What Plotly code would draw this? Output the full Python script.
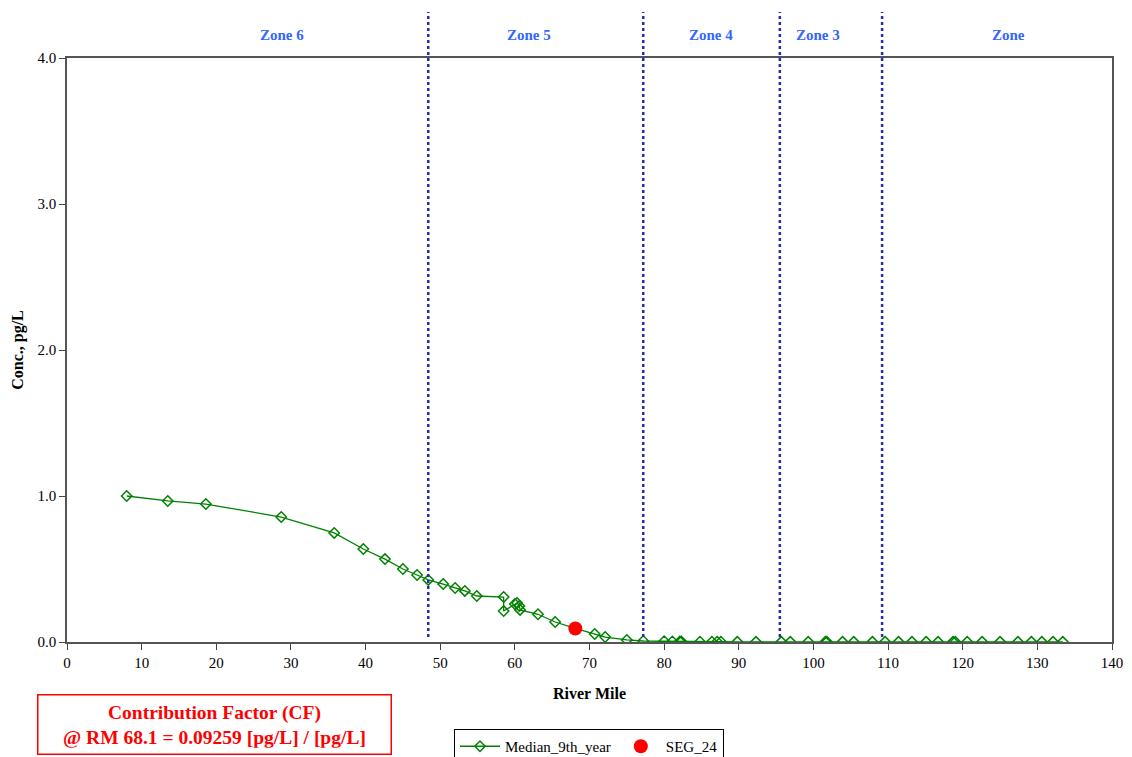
import plotly.graph_objects as go

# River mile and median concentration (pg/L)
river_mile = [8.0, 13.5, 18.6, 28.7, 35.8, 39.7, 42.6, 45.0, 46.9, 48.4,
              50.4, 52.0, 53.3, 54.9, 58.5, 58.5, 60.0, 60.3, 60.6, 60.7,
              63.1, 65.4, 68.1, 70.7, 72.1, 75.0, 77.2, 80.0, 81.1, 82.1,
              82.3, 84.8, 86.4, 87.1, 87.6, 89.8, 92.3, 95.7, 96.9, 99.3,
              101.6, 101.8, 103.9, 105.4, 107.9, 109.6, 111.4, 113.2, 115.1, 116.7,
              118.7, 119.0, 120.6, 122.6, 125.0, 127.4, 129.2, 130.6, 132.1, 133.4]
median_conc = [1.00, 0.966, 0.945, 0.856, 0.747, 0.637, 0.568, 0.500, 0.459, 0.425,
               0.397, 0.370, 0.350, 0.315, 0.308, 0.212, 0.260, 0.267, 0.247, 0.220,
               0.190, 0.137, 0.0926, 0.055, 0.034, 0.014, 0.007, 0.005, 0.004, 0.003,
               0.003, 0.002, 0.002, 0.002, 0.002, 0.001, 0.001, 0.001, 0.001, 0.001,
               0.001, 0.001, 0.001, 0.001, 0.001, 0.001, 0.001, 0.001, 0.001, 0.001,
               0.001, 0.001, 0.001, 0.001, 0.001, 0.001, 0.001, 0.001, 0.001, 0.001]

seg_mile = [68.1]
seg_conc = [0.09259]

zone_bounds = [48.4, 77.2, 95.5, 109.2]
zone_labels = ["Zone 6", "Zone 5", "Zone 4", "Zone 3", "Zone"]
zone_label_x = [28.8, 61.9, 86.3, 100.6, 126.2]

x_ticks = list(range(0, 141, 10))
y_ticks = [0.0, 1.0, 2.0, 3.0, 4.0]

FONT = "Liberation Serif, Times New Roman, serif"

fig = go.Figure()
fig.add_trace(go.Scatter(
    x=river_mile, y=median_conc, mode="lines+markers", name="Median_9th_year",
    line=dict(color="#008000", width=1.3),
    marker=dict(symbol="diamond-open", size=8, color="#008000", line=dict(width=1.5)),
))
fig.add_trace(go.Scatter(
    x=seg_mile, y=seg_conc, mode="markers", name="SEG_24",
    marker=dict(symbol="circle", size=14, color="#ff0000"),
))

for xb in zone_bounds:
    fig.add_shape(type="line", xref="x", yref="paper", x0=xb, x1=xb,
                  y0=0.0086, y1=1.0788,
                  line=dict(color="#2b2ba5", width=2.5, dash="dot"))

for lbl, lx in zip(zone_labels, zone_label_x):
    fig.add_annotation(x=lx, xref="x", y=(642 - 35) / 584, yref="paper",
                       text="<b>%s</b>" % lbl, showarrow=False,
                       xanchor="center", yanchor="middle",
                       font=dict(family=FONT, size=15, color="#3366ff"))

fig.add_annotation(
    xref="paper", yref="paper", x=(214 - 67) / 1045, y=(642 - 724) / 584,
    xanchor="center", yanchor="middle",
    text="<b>Contribution Factor (CF)<br>@ RM 68.1 = 0.09259 [pg/L] / [pg/L]</b>",
    showarrow=False, align="center",
    font=dict(family=FONT, size=19.5, color="#ff0000"),
    bordercolor="#ff0000", borderwidth=1.5, borderpad=6, bgcolor="white",
    width=340,
)

fig.update_layout(
    width=1132, height=757,
    margin=dict(l=67, r=20, t=58, b=115, autoexpand=False),
    paper_bgcolor="white", plot_bgcolor="white",
    font=dict(family=FONT, size=15, color="black"),
    showlegend=True,
    legend=dict(orientation="h", x=(589 - 67) / 1045, xanchor="center",
                y=(642 - 729) / 584, yanchor="top",
                bordercolor="black", borderwidth=1, bgcolor="white",
                font=dict(family=FONT, size=15, color="black"),
                itemwidth=40),
    xaxis=dict(range=[0, 140], tickvals=x_ticks, ticks="outside", ticklen=6,
               tickcolor="#444", showline=True, linecolor="#555", linewidth=1.5,
               mirror=True, showgrid=False, zeroline=False,
               title=dict(text="<b>River Mile</b>", font=dict(family=FONT, size=16), standoff=18),
               tickfont=dict(family=FONT, size=15)),
    yaxis=dict(range=[0, 4], tickvals=y_ticks, tickformat=".1f", ticks="outside",
               ticklen=6, tickcolor="#444", showline=True, linecolor="#555",
               linewidth=1.5, mirror=True, showgrid=False, zeroline=False,
               title=dict(text="<b>Conc., pg/L</b>", font=dict(family=FONT, size=16), standoff=10),
               tickfont=dict(family=FONT, size=15)),
)

fig.write_html("out.html")
